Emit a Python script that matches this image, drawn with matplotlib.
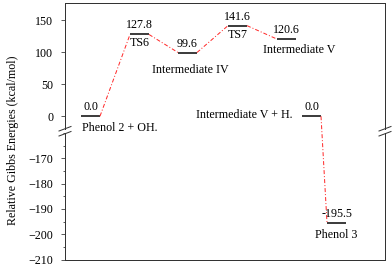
import matplotlib
matplotlib.use("Agg")
import matplotlib.pyplot as plt
from matplotlib.lines import Line2D
from matplotlib.ticker import MultipleLocator

# ---- data ----
states = ["Phenol 2 + OH.", "TS6", "Intermediate IV", "TS7",
          "Intermediate V", "Intermediate V + H.", "Phenol 3"]
energies = [0.0, 127.8, 99.6, 141.6, 120.6, 0.0, -195.5]
value_labels = ["0.0", "127.8", "99.6", "141.6", "120.6", "0.0", "-195.5"]
connections = [(0, 1), (1, 2), (2, 3), (3, 4), (5, 6)]
top_ticks = [0, 50, 100, 150]
bot_ticks = [-210, -200, -190, -180, -170]

# ---- layout ----
level_x = [16, 65, 113, 163, 212, 237, 262]   # left end of each level
level_w = 19
name_dx = [0, 0, 2.5, 0, 13, -9, 0]
name_dy = [-12, -8.5, -17, -9, -11, 1, -12]
name_ha = ["left", "center", "center", "center", "center", "right", "center"]

plt.rcParams['font.family'] = ['Liberation Serif', 'DejaVu Serif']
plt.rcParams['font.size'] = 12

W, H = 392, 266
fig = plt.figure(figsize=(W / 72, H / 72), dpi=72)


def rect(x0, ytop, x1, ybot):
    return [x0 / W, 1 - ybot / H, (x1 - x0) / W, (ybot - ytop) / H]


ax_top = fig.add_axes(rect(65, 3, 385, 129))
ax_bot = fig.add_axes(rect(65, 133, 385, 259.5))
ax_top.set_ylim(-20, 177)
ax_bot.set_ylim(-210, -160)
spine_c = "#333333"
for ax in (ax_top, ax_bot):
    ax.set_xlim(0, 320)
    ax.set_xticks([])
    for s in ax.spines.values():
        s.set_color(spine_c)
        s.set_linewidth(1.0)
    ax.tick_params(axis='y', direction='out', length=4, width=0.8,
                   colors=spine_c, labelcolor='black', pad=8)
    ax.tick_params(axis='y', which='minor', direction='out', length=2.5,
                   width=0.8, colors=spine_c)
ax_top.spines['bottom'].set_visible(False)
ax_bot.spines['top'].set_visible(False)
ax_top.set_yticks(top_ticks)
ax_bot.set_yticks(bot_ticks)
ax_bot.yaxis.set_minor_locator(MultipleLocator(5))


def axis_for(e):
    return ax_top if e >= -20 else ax_bot


# levels and labels
for i, (name, e, vl) in enumerate(zip(states, energies, value_labels)):
    ax = axis_for(e)
    x0 = level_x[i]
    x1 = x0 + level_w
    xc = (x0 + x1) / 2
    ax.plot([x0, x1], [e, e], color='black', lw=1.5, solid_capstyle='butt')
    ax.annotate(vl, (xc, e), xytext=(0, 9), textcoords='offset points',
                ha='center', va='center')
    if name_ha[i] == "left":
        nx = x0 + 1
    elif name_ha[i] == "right":
        nx = x0
    else:
        nx = xc
    ax.annotate(name, (nx + name_dx[i], e), xytext=(0, name_dy[i]),
                textcoords='offset points', ha=name_ha[i], va='center')

# connectors
red = "#ff2a2a"
fig.canvas.draw()
for a, b in connections:
    xa, ea = level_x[a] + level_w, energies[a]
    xb, eb = level_x[b], energies[b]
    axa, axb = axis_for(ea), axis_for(eb)
    if axa is axb:
        axa.plot([xa, xb], [ea, eb], color=red, lw=1.0,
                 linestyle=(0, (4, 2, 1, 2)))
    else:
        pa = axa.transData.transform((xa, ea))
        pb = axb.transData.transform((xb, eb))
        inv = fig.transFigure.inverted()
        fa = inv.transform(pa)
        fb = inv.transform(pb)
        fig.add_artist(Line2D([fa[0], fb[0]], [fa[1], fb[1]],
                              transform=fig.transFigure, color=red, lw=1.0,
                              linestyle=(0, (4, 2, 1, 2))))

# break marks
for xs in (65, 385):
    for dy in (0, 5):
        fig.add_artist(Line2D([(xs - 6) / W, (xs + 6) / W],
                              [1 - (131 + dy) / H, 1 - (126.5 + dy) / H],
                              transform=fig.transFigure, color=spine_c, lw=1.0))

fig.text(13 / W, 1 - 140 / H, "Relative Gibbs Energies (kcal/mol)",
         rotation=90, ha='center', va='center')

fig.savefig("out.png", dpi=72)
